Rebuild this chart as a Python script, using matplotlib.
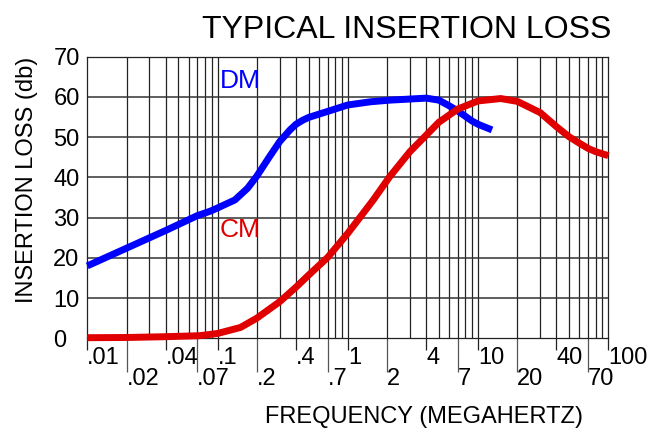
import matplotlib
matplotlib.use("Agg")
import matplotlib.pyplot as plt
import numpy as np

plt.rcParams["font.family"] = ["Liberation Sans", "DejaVu Sans"]

# DM curve (blue)
dm_freq = [0.01, 0.02, 0.04, 0.07, 0.088, 0.1, 0.136, 0.17, 0.2, 0.25, 0.3, 0.36,
           0.4, 0.45, 0.5, 0.7, 1.0, 1.5, 2.1, 4.0, 5.0, 6.0, 7.0, 9.0, 10.0, 12.8]
dm_db = [18.0, 22.4, 26.8, 30.5, 31.6, 32.4, 34.4, 37.3, 40.3, 45.1, 48.9, 51.8,
         53.2, 54.2, 54.9, 56.4, 58.0, 58.8, 59.2, 59.7, 59.2, 57.8, 56.5, 54.0, 53.2, 51.8]

# CM curve (red)
cm_freq = [0.01, 0.02, 0.04, 0.073, 0.1, 0.15, 0.2, 0.3, 0.4, 0.5, 0.7, 1.0, 1.57,
           2.1, 3.0, 4.0, 5.0, 7.0, 10.0, 14.9, 20.0, 30.0, 40.0, 50.0, 60.0, 70.0,
           80.0, 100.0]
cm_db = [0.15, 0.2, 0.4, 0.65, 1.2, 2.7, 5.0, 9.1, 12.7, 15.7, 20.1, 26.1, 34.4,
         40.2, 46.4, 50.5, 53.7, 57.0, 59.0, 59.6, 58.9, 56.1, 52.6, 50.1, 48.5, 47.2,
         46.4, 45.4]

# tick labels, two staggered rows
top_ticks = [0.01, 0.04, 0.1, 0.4, 1, 4, 10, 40, 100]
top_labels = [".01", ".04", ".1", ".4", "1", "4", "10", "40", "100"]
low_ticks = [0.02, 0.07, 0.2, 0.7, 2, 7, 20, 70]
low_labels = [".02", ".07", ".2", ".7", "2", "7", "20", "70"]
y_ticks = [0, 10, 20, 30, 40, 50, 60, 70]

fig = plt.figure(figsize=(6.5, 4.29), dpi=100)
ax = fig.add_axes([87.3 / 650, 1 - 338.3 / 429, 521 / 650, 281.6 / 429])
ax.set_xscale("log")
ax.set_xlim(0.01, 100)
ax.set_ylim(0, 70)

# grid: every 1..9 of each decade, and every 10 db
grid_x = [m * 10.0 ** d for d in range(-2, 2) for m in range(1, 10)][1:]
ax.vlines(grid_x, 0, 70, colors="#222222", linewidth=0.9, zorder=1)
ax.hlines(y_ticks[1:-1], 0.01, 100, colors="#333333", linewidth=1.1, zorder=1)
for s in ax.spines.values():
    s.set_color("#222222")
    s.set_linewidth(0.9)

ax.plot(dm_freq, dm_db, color="#0000ff", linewidth=5, solid_capstyle="butt",
        solid_joinstyle="round", clip_on=False, zorder=3)
ax.plot(cm_freq, cm_db, color="#e00000", linewidth=5, solid_capstyle="butt",
        solid_joinstyle="round", clip_on=False, zorder=3)

ax.text(0.15, 64.0, "DM", color="#0000ff", fontsize=19, ha="center", va="center")
ax.text(0.15, 26.9, "CM", color="#e00000", fontsize=19, ha="center", va="center")

# x ticks: top row short ticks, bottom row long ticks
ax.set_xticks(top_ticks, top_labels)
ax.set_xticks(low_ticks, low_labels, minor=True)
ax.tick_params(axis="x", which="major", length=8.6, width=0.9, color="#222222",
               pad=-2.4, labelsize=17)
ax.tick_params(axis="x", which="minor", length=24.5, width=0.9, color="#555555",
               pad=-2.9, labelsize=17)
for lab in ax.get_xticklabels(which="both"):
    lab.set_horizontalalignment("left")

ax.set_yticks(y_ticks, [str(v) for v in y_ticks])
ax.tick_params(axis="y", length=0, pad=24.5, labelsize=17)
for lab in ax.get_yticklabels():
    lab.set_horizontalalignment("left")

fig.text(202 / 650, 1 - 38 / 429, "TYPICAL INSERTION LOSS", fontsize=23,
         ha="left", va="baseline")
fig.text(27 / 650, 1 - 180 / 429, "INSERTION LOSS (db)", fontsize=17,
         rotation=90, ha="center", va="center")
fig.text(424 / 650, 1 - 423 / 429, "FREQUENCY (MEGAHERTZ)", fontsize=17,
         ha="center", va="baseline")

fig.savefig("out.png", dpi=100)
